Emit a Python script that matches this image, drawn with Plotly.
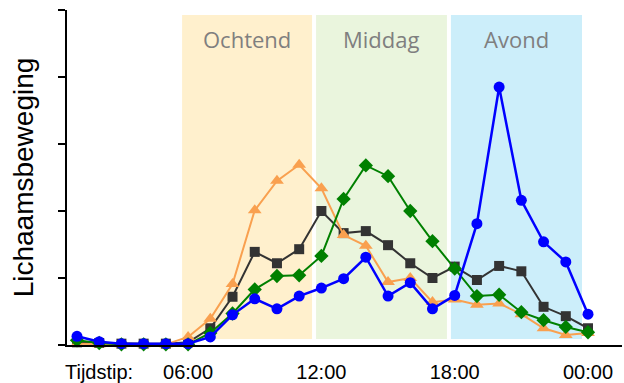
import plotly.graph_objects as go

# Hours (1..24, 24 = 00:00)
hours = list(range(1, 25))

blue = [0.13, 0.05, 0.02, 0.02, 0.02, 0.02, 0.12, 0.45, 0.69, 0.54, 0.73, 0.85,
        0.99, 1.31, 0.73, 0.93, 0.54, 0.74, 1.81, 3.85, 2.16, 1.54, 1.24, 0.46]
black = [0.04, 0.03, 0.02, 0.02, 0.02, 0.04, 0.25, 0.72, 1.39, 1.22, 1.43, 2.00,
         1.67, 1.70, 1.49, 1.22, 1.00, 1.17, 0.97, 1.18, 1.10, 0.57, 0.43, 0.25]
green = [0.07, 0.03, 0.01, 0.01, 0.01, 0.01, 0.18, 0.47, 0.83, 1.03, 1.04, 1.33,
         2.18, 2.68, 2.52, 2.00, 1.55, 1.14, 0.73, 0.75, 0.49, 0.37, 0.27, 0.19]
orange = [0.02, 0.01, 0.01, 0.01, 0.01, 0.12, 0.39, 0.91, 2.01, 2.45, 2.69, 2.34,
          1.64, 1.48, 0.94, 1.00, 0.64, 0.68, 0.60, 0.62, 0.46, 0.25, 0.15, 0.18]

tick_vals = [6, 12, 18, 24]
tick_text = ["06:00", "12:00", "18:00", "00:00"]

band_names = ["Ochtend", "Middag", "Avond"]
band_x0 = [5.73, 11.76, 17.83]
band_x1 = [11.58, 17.65, 23.73]
band_colors = ["#FFF0CD", "#EAF5DD", "#CCEEFA"]

fig = go.Figure()

series = [
    (black, "#333333", "square", 10, 2),
    (orange, "#F9A04F", "triangle-up", 12, 2),
    (green, "#008000", "diamond", 11, 2),
    (blue, "#0000FF", "circle", 11, 2.5),
]
for ys, col, sym, sz, lw in series:
    fig.add_trace(go.Scatter(
        x=hours, y=ys, mode="lines+markers",
        line=dict(color=col, width=lw),
        marker=dict(symbol=sym, size=sz, color=col),
        showlegend=False, cliponaxis=False,
    ))

for name, x0, x1, c in zip(band_names, band_x0, band_x1, band_colors):
    fig.add_shape(type="rect", xref="x", yref="y", x0=x0, x1=x1, y0=0.09, y1=4.925,
                  fillcolor=c, line=dict(width=0), layer="below")
    fig.add_annotation(x=(x0 + x1) / 2, y=4.57, xref="x", yref="y", text=name,
                       showarrow=False, font=dict(family="Open Sans", size=22, color="#7F7F7F"))

fig.add_annotation(x=-0.008, y=-0.081, xref="paper", yref="paper", text="Tijdstip:",
                   xanchor="left", yanchor="middle", showarrow=False,
                   font=dict(family="Liberation Sans", size=20, color="#000000"))

fig.update_layout(
    width=624, height=383,
    margin=dict(l=67, r=2, t=10, b=38),
    paper_bgcolor="white", plot_bgcolor="white",
    font=dict(family="Liberation Sans", color="#000000"),
    xaxis=dict(range=[0.55, 25.53], tickvals=tick_vals, ticktext=tick_text,
               showgrid=False, zeroline=False, showline=True, linecolor="#000000",
               linewidth=2, ticks="outside", ticklen=8, tickcolor="rgba(0,0,0,0)",
               tickfont=dict(size=20), automargin=False),
    yaxis=dict(range=[0, 5], tickvals=[0, 1, 2, 3, 4, 5], showticklabels=False,
               showgrid=False, zeroline=False, showline=True, linecolor="#000000",
               linewidth=2, ticks="outside", ticklen=7, tickwidth=2, tickcolor="#000000",
               automargin=False,
               title=dict(text="Lichaamsbeweging", font=dict(size=28), standoff=16)),
)

fig.write_html("out.html", post_script="document.body.style.margin='0px';",
               config={"displayModeBar": False})
